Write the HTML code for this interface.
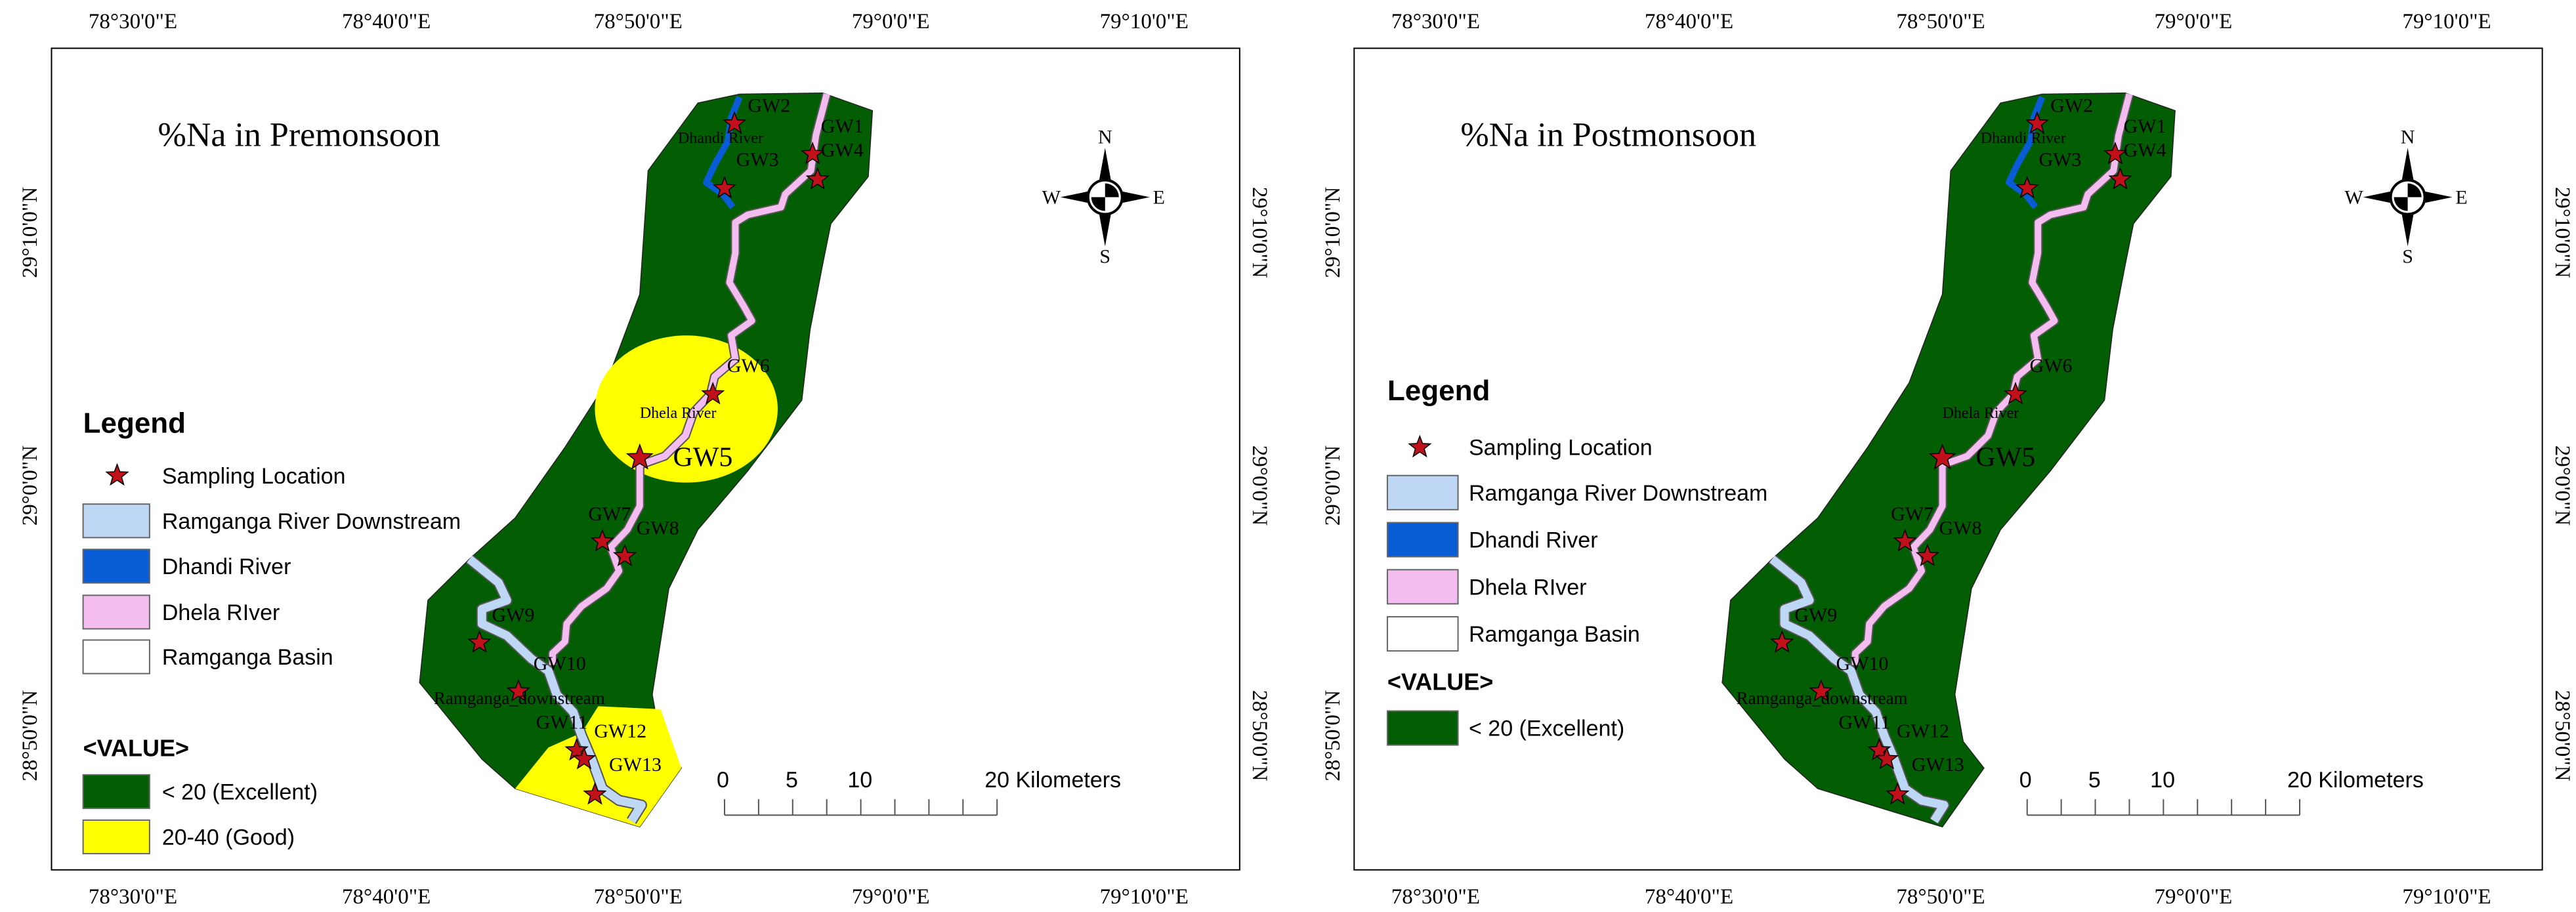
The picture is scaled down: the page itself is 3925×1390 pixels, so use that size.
<!DOCTYPE html>
<html><head><meta charset="utf-8"><style>
html,body{margin:0;padding:0;background:#fff;width:3925px;height:1390px;overflow:hidden}
svg{display:block}
text{font-family:"Liberation Serif",serif}
.sans{font-family:"Liberation Sans",sans-serif}
</style></head><body>
<svg id="root" width="3925" height="1390" viewBox="0 0 3925 1390" xmlns="http://www.w3.org/2000/svg"></svg>
<script>
const SX=1.266, SY=0.897;
const panelTitles=["%Na in Premonsoon","%Na in Postmonsoon"];
const lonLabels=["78°30'0\"E","78°40'0\"E","78°50'0\"E","79°0'0\"E","79°10'0\"E"];
const lonPos=[160,465,768,1072,1377];
const latLabels=["29°10'0\"N","29°0'0\"N","28°50'0\"N"];
const latPos=[395,825,1250];
const stationNames=["GW2","GW1","GW4","GW3","GW6","GW5","GW7","GW8","GW9","Ramganga_downstream","GW11","GW12","GW13"];
const stationX=[884,978,984,872,858,770,725,752,577,624,694,703,716];
const stationY=[210,262,305,320,670,778,920,945,1092,1175,1275,1290,1350];
const scaleTicks=["0","5","10","20 Kilometers"];
const NS="http://www.w3.org/2000/svg";
const root=document.getElementById('root');
function mk(tag,attrs,parent){const e=document.createElementNS(NS,tag);for(const k in attrs)e.setAttribute(k,attrs[k]);parent.appendChild(e);return e;}
function pts(a,dx){return a.map(p=>((p[0]+dx)*SX).toFixed(1)+','+(p[1]*SY).toFixed(1)).join(' ');}
const basin=[[840,175],[890,160],[990,158],[1050,188],[1045,300],[1000,380],[990,450],[975,560],[965,680],[900,800],[870,850],[840,900],[805,1000],[785,1180],[795,1260],[820,1305],[770,1405],[620,1340],[580,1290],[505,1160],[515,1020],[565,950],[620,880],[680,760],[730,650],[770,500],[780,290]];
const yellowB=[[720,1200],[795,1205],[820,1305],[770,1405],[620,1340],[660,1270],[700,1245]];
const dhela=[[995,160],[982,230],[976,290],[945,330],[940,352],[900,365],[885,378],[885,430],[878,480],[895,520],[905,545],[880,570],[885,610],[860,640],[855,670],[835,700],[825,740],[800,775],[770,790],[770,860],[755,900],[735,930],[745,970],[730,1000],[700,1030],[682,1060],[680,1090],[665,1110],[665,1130]];
const dhandi=[[890,165],[880,200],[876,240],[860,280],[850,310],[870,330],[882,352]];
const ram=[[565,950],[600,990],[610,1020],[580,1035],[580,1060],[610,1080],[640,1120],[660,1140],[670,1180],[690,1210],[700,1250],[712,1290],[725,1340],[745,1360],[772,1368],[760,1395]];
function star(cx,cy,r){let s=[];for(let i=0;i<10;i++){const a=-Math.PI/2+i*Math.PI/5;const rr=i%2?r*0.42:r;s.push((cx+rr*Math.cos(a)).toFixed(1)+','+(cy+rr*Math.sin(a)).toFixed(1));}return s.join(' ');}
function txt(g,s,x,y,size,opts){opts=opts||{};const t=mk('text',{x:x,y:y,'font-size':size,fill:opts.fill||'#000','text-anchor':opts.anchor||'start'},g);if(opts.cls)t.setAttribute('class',opts.cls);if(opts.bold)t.setAttribute('font-weight','bold');if(opts.rot)t.setAttribute('transform','rotate('+opts.rot+' '+x+' '+y+')');t.textContent=s;return t;}

[0,1].forEach(p=>{
  const ox=p*1962, dx=p?18:0;
  const g=mk('g',{transform:'translate('+ox+',0)'},root);
  
  
  const X=z=>(z+dx)*SX, Y=z=>z*SY;
  const fr=mk('rect',{x:X(62),y:Y(82),width:1430*SX,height:1396*SY,fill:'#fff',stroke:'#000','stroke-width':2},g);
  
  
  const b=mk('polygon',{points:pts(basin,dx),fill:'#035e03',stroke:'#222','stroke-width':1.5},g);
  
  
  if(p===0){
    const e=mk('ellipse',{cx:X(826),cy:Y(695),rx:110*SX,ry:125*SY,fill:'#ffff00'},g);
    
    
    const yb=mk('polygon',{points:pts(yellowB,dx),fill:'#ffff00'},g);
    
    
  }
  const r1=mk('polyline',{points:pts(ram,dx),fill:'none',stroke:'#555','stroke-width':17,'stroke-linejoin':'round'},g);
  
  
  const r2=mk('polyline',{points:pts(ram,dx),fill:'none',stroke:'#bed7f5','stroke-width':13,'stroke-linejoin':'round'},g);
  
  
  const d1=mk('polyline',{points:pts(dhela,dx),fill:'none',stroke:'#555','stroke-width':14,'stroke-linejoin':'round'},g);
  
  
  const d2=mk('polyline',{points:pts(dhela,dx),fill:'none',stroke:'#f4bdf0','stroke-width':10,'stroke-linejoin':'round'},g);
  
  
  const dh=mk('polyline',{points:pts(dhandi,dx),fill:'none',stroke:'#0a5bd6','stroke-width':10,'stroke-linejoin':'round'},g);
  
  
  stationX.forEach((sx,i)=>{
    const s=mk('polygon',{points:star(X(sx),Y(stationY[i]),i===5?20:17),fill:'#c0101a',stroke:'#000','stroke-width':1.5},g);
    
    
  });
  const L=[["GW2",900,190,30],["Dhandi River",816,243,24],["GW1",988,225,30],["GW4",988,266,30],["GW3",886,282,30],["GW6",875,632,30],["Dhela River",770,710,24],["GW5",810,792,42],["GW7",708,884,30],["GW8",766,908,30],["GW9",592,1056,30],["GW10",642,1138,30],["Ramganga_downstream",522,1196,27],["GW11",645,1238,30],["GW12",715,1253,30],["GW13",733,1310,30]];
  L.forEach(l=>{const t=txt(g,l[0],X(l[1]),Y(l[2]),l[3]);
    
    });
  const tt=txt(g,panelTitles[p],X(190),Y(248),52);
  
  
  lonLabels.forEach((s,i)=>{
    const a=txt(g,s,X(lonPos[i]),43,33,{anchor:'middle'});
    
    
    const c=txt(g,s,X(lonPos[i]),1377,33,{anchor:'middle'});
    
    
  });
  latLabels.forEach((s,i)=>{
    const a=txt(g,s,X(46)-2,Y(latPos[i]),33,{anchor:'middle',rot:-90});
    
    
    const c=txt(g,s,X(1508),Y(latPos[i]),33,{anchor:'middle',rot:90});
    
    
  });
  const cg=mk('g',{transform:'translate('+X(1330)+','+Y(335)+')'},g);
  
  
  mk('polygon',{points:'0,-75 10,-20 -10,-20',fill:'#000'},cg);
  mk('polygon',{points:'0,75 10,20 -10,20',fill:'#000'},cg);
  mk('polygon',{points:'-68,0 -20,-10 -20,10',fill:'#000'},cg);
  mk('polygon',{points:'68,0 20,-10 20,10',fill:'#000'},cg);
  mk('circle',{cx:0,cy:0,r:26,fill:'#fff',stroke:'#000','stroke-width':4},cg);
  mk('path',{d:'M0,0 L0,-21 A21,21 0 0 1 21,0 Z M0,0 L0,21 A21,21 0 0 1 -21,0 Z',fill:'#000'},cg);
  [["N",0,-82],["S",0,100],["W",-82,10],["E",82,10]].forEach(c=>{const t=txt(cg,c[0],c[1],c[2],30,{anchor:'middle'});
    
    });
  const sb=mk('g',{},g);
  
  
  mk('line',{x1:X(872),y1:Y(1385),x2:X(1200),y2:Y(1385),stroke:'#555','stroke-width':2},sb);
  for(let k=0;k<9;k++){const xx=X(872+k*41);mk('line',{x1:xx,y1:Y(1358),x2:xx,y2:Y(1385),stroke:'#555','stroke-width':2},sb);}
  const sxs=[870,953,1035,1185];
  scaleTicks.forEach((s,i)=>{const t=txt(sb,s,X(sxs[i]),Y(1338),34,{cls:'sans',anchor:i<3?'middle':'start'});
    
    });
  const lg=mk('g',{},g);
  
  
  const LY=p?[680,760,837,917,997,1077,1172,1237]:[735,808,885,962,1040,1116,1285,1345];
  const bh=p?58:57;
  const ht=txt(lg,'Legend',X(100+(p?2:0)),Y(LY[0]),44,{cls:'sans',bold:true});
  
  
  const ls=mk('polygon',{points:star(X(141),Y(LY[1]),17),fill:'#c0101a',stroke:'#000','stroke-width':1.5},lg);
  
  
  const tx0=X(p?200:195);
  const t0=txt(lg,'Sampling Location',tx0,Y(LY[1])+12,34,{cls:'sans'});
  
  
  const items=[["Ramganga River Downstream","#bed7f5"],["Dhandi River","#0a5bd6"],["Dhela RIver","#f4bdf0"],["Ramganga Basin","#ffffff"]];
  const bx0=X(p?102:100), bw=(p?85:80)*SX;
  items.forEach((it,i)=>{const cy=Y(LY[2+i]);
    const r=mk('rect',{x:bx0,y:cy-bh*SY/2,width:bw,height:bh*SY,fill:it[1],stroke:'#666','stroke-width':2},lg);
    
    
    const t=txt(lg,it[0],tx0,cy+12,34,{cls:'sans'});
    
    });
  const vt=txt(lg,'<VALUE>',bx0,Y(LY[6]),36,{cls:'sans',bold:true});
  
  
  const vals=p?[["< 20 (Excellent)","#035e03"]]:[["< 20 (Excellent)","#035e03"],["20-40 (Good)","#ffff00"]];
  vals.forEach((v,i)=>{const cy=Y(LY[7])+i*77*SY;
    const r=mk('rect',{x:bx0,y:cy-bh*SY/2,width:bw,height:bh*SY,fill:v[1],stroke:'#666','stroke-width':2},lg);
    
    
    const t=txt(lg,v[0],tx0,cy+12,34,{cls:'sans'});
    
    });
});
</script>
</body></html>
